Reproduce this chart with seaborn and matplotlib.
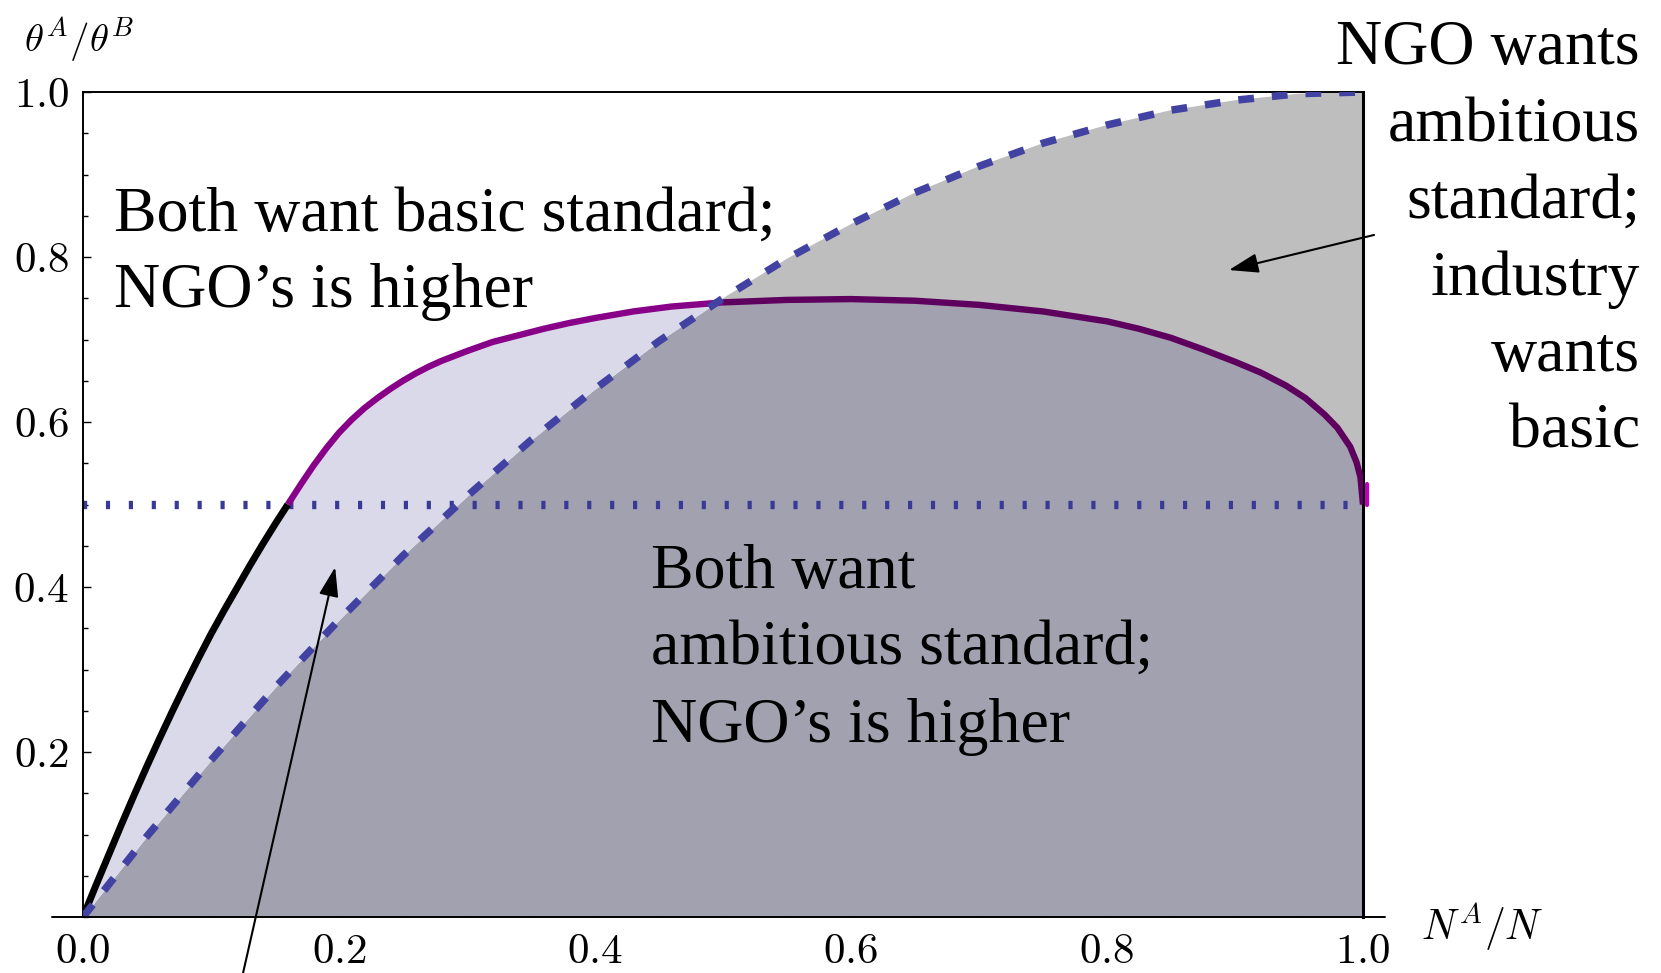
import numpy as np
import pandas as pd
import matplotlib
matplotlib.use("Agg")
import matplotlib.pyplot as plt
import seaborn as sns
from matplotlib.ticker import MultipleLocator

# ---------------- data ----------------
x_black = [0.00, 0.01, 0.02, 0.03, 0.04, 0.05, 0.06, 0.07, 0.08,
           0.09, 0.10, 0.11, 0.12, 0.13, 0.14, 0.15, 0.16]
y_black = [0.000, 0.038, 0.075, 0.112, 0.148, 0.183, 0.217, 0.250, 0.282,
           0.313, 0.343, 0.371, 0.398, 0.425, 0.451, 0.476, 0.500]

x_purple = [0.16, 0.17, 0.18, 0.19, 0.20, 0.21, 0.22, 0.23, 0.24, 0.25,
            0.26, 0.27, 0.28, 0.29, 0.30, 0.32, 0.34, 0.36, 0.38, 0.40,
            0.43, 0.46, 0.50, 0.55, 0.60, 0.65, 0.70, 0.75, 0.80, 0.825,
            0.85, 0.875, 0.90, 0.92, 0.94, 0.955, 0.97, 0.98, 0.99, 0.995,
            0.998, 1.00]
y_purple = [0.500, 0.524, 0.547, 0.568, 0.587, 0.603, 0.617, 0.629, 0.640, 0.650,
            0.659, 0.667, 0.674, 0.680, 0.686, 0.697, 0.705, 0.713, 0.720, 0.726,
            0.734, 0.740, 0.745, 0.748, 0.749, 0.747, 0.742, 0.734, 0.722, 0.713,
            0.702, 0.688, 0.673, 0.660, 0.644, 0.629, 0.609, 0.593, 0.570, 0.551,
            0.533, 0.500]

x_blue = [0.00, 0.05, 0.10, 0.15, 0.20, 0.25, 0.30, 0.35, 0.40, 0.45, 0.50,
          0.55, 0.60, 0.65, 0.70, 0.75, 0.80, 0.85, 0.90, 0.95, 1.00]
y_blue = [0.000, 0.098, 0.190, 0.278, 0.360, 0.438, 0.510, 0.578, 0.640, 0.698, 0.750,
          0.798, 0.840, 0.878, 0.910, 0.938, 0.960, 0.978, 0.990, 0.998, 1.000]

threshold = 0.5

x_ticks = [0.0, 0.2, 0.4, 0.6, 0.8, 1.0]
x_tick_labels = ["0.0", "0.2", "0.4", "0.6", "0.8", "1.0"]
y_ticks = [0.2, 0.4, 0.6, 0.8, 1.0]
y_tick_labels = ["0.2", "0.4", "0.6", "0.8", "1.0"]

label_basic = ["Both want basic standard;", "NGO\u2019s is higher"]
label_ambitious = ["Both want", "ambitious standard;", "NGO\u2019s is higher"]
label_right = ["NGO wants", "ambitious", "standard;", "industry", "wants", "basic"]

# ---------------- style ----------------
sns.set_theme(style="white")
plt.rcParams["font.family"] = ["Liberation Serif", "DejaVu Serif"]
plt.rcParams["mathtext.fontset"] = "cm"
plt.rcParams["text.color"] = "black"

W, H = 1661, 973
fig = plt.figure(figsize=(W / 100, H / 100), dpi=100)
ax = fig.add_axes([83 / W, 56 / H, 1280 / W, 825 / H])

# ---------------- regions ----------------
x_upper = np.array(x_black + x_purple[1:])
y_upper = np.array(y_black + y_purple[1:])
xg = np.linspace(0, 1, 4001)
up = np.interp(xg, x_upper, y_upper)
bl = np.interp(xg, x_blue, y_blue)

ax.fill_between(xg, 0, np.minimum(up, bl), color="#a2a1b0", lw=0, zorder=1)
ax.fill_between(xg, bl, up, where=up >= bl, color="#d9d9ea", lw=0, zorder=1, interpolate=True)
ax.fill_between(xg, up, bl, where=bl >= up, color="#bebebe", lw=0, zorder=1, interpolate=True)

# dotted threshold line
ax.axhline(threshold, color="#3a3a96", lw=6.0, linestyle=(0, (0.5, 2.25)),
           dash_capstyle="butt", zorder=2)

# curves
df_black = pd.DataFrame({"x": x_black, "y": y_black})
sns.lineplot(data=df_black, x="x", y="y", ax=ax, color="black", lw=5.0,
             estimator=None, zorder=4, solid_capstyle="butt", solid_joinstyle="round")

dfp = pd.DataFrame({"x": x_purple, "y": y_purple})
left = dfp[dfp.x <= 0.50]
right = dfp[dfp.x >= 0.50]
sns.lineplot(data=left, x="x", y="y", ax=ax, color="#880088", lw=4.6,
             estimator=None, zorder=4, solid_capstyle="butt", solid_joinstyle="round")
sns.lineplot(data=right, x="x", y="y", ax=ax, color="#5e005e", lw=4.6,
             estimator=None, zorder=4, solid_capstyle="butt", solid_joinstyle="round")
ax.plot([1.003, 1.003], [0.50, 0.525], color="#c000c0", lw=3, zorder=4, clip_on=False)

df_blue = pd.DataFrame({"x": x_blue, "y": y_blue})
sns.lineplot(data=df_blue, x="x", y="y", ax=ax, color="#4242a2", lw=5.4,
             estimator=None, zorder=5, linestyle=(0, (2.1, 2.4)))

# ---------------- axes ----------------
ax.set_xlim(0, 1)
ax.set_ylim(0, 1)
ax.set_xlabel("")
ax.set_ylabel("")
for s in ["left", "top"]:
    ax.spines[s].set_color("black")
    ax.spines[s].set_linewidth(1.4)
ax.spines["right"].set_color("black")
ax.spines["right"].set_linewidth(2.2)
ax.spines["bottom"].set_visible(False)
ax.plot([-0.024, 1.017], [0, 0], color="black", lw=1.4, clip_on=False, zorder=6)

ax.set_xticks(x_ticks)
ax.set_xticklabels(["$%s$" % t for t in x_tick_labels])
ax.set_yticks(y_ticks)
ax.set_yticklabels(["$%s$" % t for t in y_tick_labels])
ax.xaxis.set_minor_locator(MultipleLocator(0.05))
ax.yaxis.set_minor_locator(MultipleLocator(0.05))
ax.tick_params(axis="both", which="major", direction="in", length=6, width=1.0,
               color="black", labelsize=31, labelcolor="black")
ax.tick_params(axis="both", which="minor", direction="in", length=3.5, width=1.0,
               color="black")
ax.tick_params(axis="x", which="both", bottom=True, top=False, pad=12)
ax.tick_params(axis="y", which="both", left=True, right=False, pad=10)
for t in ax.get_xticklabels() + ax.get_yticklabels():
    t.set_zorder(10)

# axis labels
ax.text(-0.003, 1.063, r"$\theta^A/\theta^B$", fontsize=28, ha="center", va="center",
        clip_on=False, color="black")
ax.text(1.093, -0.012, r"$N^A/N$", fontsize=30, ha="center", va="center",
        clip_on=False, color="black")

# ---------------- annotations ----------------
fs = 46
for txt, yb in zip(label_basic, [0.8315, 0.739]):
    ax.text(0.024, yb, txt, fontsize=fs, ha="left", va="baseline", zorder=8, color="black")
for txt, yb in zip(label_ambitious, [0.399, 0.307, 0.2127]):
    ax.text(0.444, yb, txt, fontsize=fs, ha="left", va="baseline", zorder=8, color="black")
for txt, yb in zip(label_right, [1.0345, 0.9406, 0.848, 0.7545, 0.662, 0.5685]):
    ax.text(1.2164, yb, txt, fontsize=fs, ha="right", va="baseline", zorder=8,
            clip_on=False, color="black")

arrow = dict(arrowstyle="-|>,head_length=0.9,head_width=0.3", color="black",
             lw=1.5, shrinkA=0, shrinkB=0, mutation_scale=20)
ax.annotate("", xy=(0.8953, 0.7842), xytext=(1.0086, 0.8267), arrowprops=arrow,
            annotation_clip=False, zorder=9)
ax.annotate("", xy=(0.197, 0.424), xytext=(0.124, -0.075), arrowprops=arrow,
            annotation_clip=False, zorder=9)

fig.savefig("out.png", dpi=100)
